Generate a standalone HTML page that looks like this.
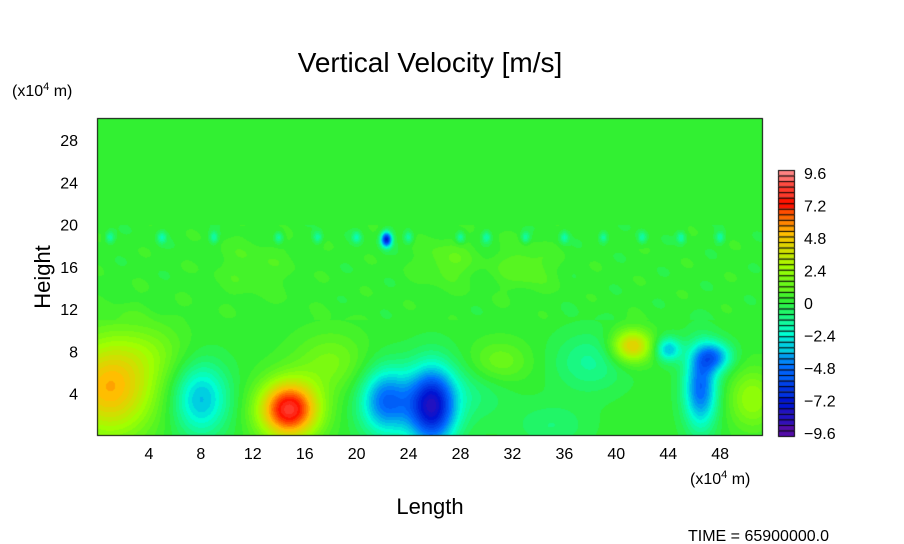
<!DOCTYPE html>
<html><head><meta charset="utf-8"><style>
body{margin:0;background:#fff;width:904px;height:544px;overflow:hidden;font-family:"Liberation Sans",sans-serif}
#c{position:absolute;left:0;top:0}
</style></head><body>
<canvas id="c" width="904" height="544"></canvas>
<svg width="904" height="544" style="position:absolute;left:0;top:0">
<g font-family="Liberation Sans, sans-serif" fill="#000">
<text x="430" y="72" font-size="28" text-anchor="middle">Vertical Velocity [m/s]</text>
<text x="12" y="96" font-size="16">(x10<tspan font-size="11" dy="-6">4</tspan><tspan dy="6"> m)</tspan></text>
<text x="690" y="484" font-size="16">(x10<tspan font-size="11" dy="-6">4</tspan><tspan dy="6"> m)</tspan></text>
<text x="430" y="514" font-size="22" text-anchor="middle">Length</text>
<text x="50" y="277" font-size="22" text-anchor="middle" transform="rotate(-90 50 277)">Height</text>
<text x="688" y="541" font-size="16">TIME = 65900000.0</text>
</g>
<g id="axes"></g>
</svg>
<script>
const xTicks=[4,8,12,16,20,24,28,32,36,40,44,48];
const yTicks=[4,8,12,16,20,24,28];
const cbLabels=[9.6,7.2,4.8,2.4,0,-2.4,-4.8,-7.2,-9.6];
// blobs: x center, y center, amplitude (m/s), x sigma, y sigma
const blobX=[1,8,14.8,22.3,25.8,31,35,41.2,44,46.5,50.5,4.5,18,29,38,22.3,27,33,12,47.5];
const blobY=[4.6,3.5,2.5,3.3,2.8,7,1,8.5,8.2,4.5,3.5,8,7,4,7,18.6,16.5,16,16,7.5];
const blobA=[5,-3.5,8,-5,-7.6,1.4,-1,4.5,-3.5,-5,2.2,1,1.5,-1,-1.5,-7,1,1,0.6,-4];
const blobSX=[2.4,1.5,1.6,1.4,1.3,1.6,2,1.1,0.7,0.9,1.3,2,2,2,2,0.3,1.5,1.5,2,1];
const blobSY=[3.2,2.4,1.9,2.2,2.6,1.4,1.5,1.1,0.8,2.6,2,2,2,2,2,0.5,1.5,1.5,2,1];
const spotX=[1,5,9,14,17,20,24,28,30,33,36,39,42,45,48];
const X0=97,X1=763,Y0=118,Y1=436,XMAX=51.3,YMAX=30.1;
const sx=v=>X0+v/XMAX*(X1-X0), sy=v=>Y1-v/YMAX*(Y1-Y0);
const stops=[[-9.6,[100,10,160]],[-7.2,[0,20,210]],[-4.8,[0,110,255]],[-2.4,[0,255,210]],[0,[50,240,50]],[2.4,[160,255,0]],[4.8,[255,190,0]],[7.2,[255,20,0]],[9.6,[255,130,130]]];
function col(v){v=Math.max(-9.6,Math.min(9.6,Math.round(v/0.4)*0.4));
 for(let i=0;i<stops.length-1;i++){const a=stops[i],b=stops[i+1];if(v<=b[0]){const t=(v-a[0])/(b[0]-a[0]);return a[1].map((c,k)=>Math.round(c+(b[1][k]-c)*t));}}return stops[8][1];}
function field(x,y){let v=0;for(let i=0;i<blobX.length;i++){const dx=(x-blobX[i])/blobSX[i],dy=(y-blobY[i])/blobSY[i];v+=blobA[i]*Math.exp(-(dx*dx+dy*dy)/2);}
 for(const s of spotX){const dx=(x-s)/0.25,dy=(y-18.8)/0.4;v-=1.8*Math.exp(-(dx*dx+dy*dy)/2);}
 if(y>11&&y<20)v+=0.25*Math.sin(x*1.3+y*0.9)*Math.sin(x*0.5-y*1.1);
 return v;}
const ctx=document.getElementById('c').getContext('2d');
const img=ctx.createImageData(X1-X0,Y1-Y0);
for(let j=0;j<Y1-Y0;j++)for(let i=0;i<X1-X0;i++){const x=(i+0.5)/(X1-X0)*XMAX,y=(Y1-Y0-j-0.5)/(Y1-Y0)*YMAX;const c=col(field(x,y));const p=(j*(X1-X0)+i)*4;img.data[p]=c[0];img.data[p+1]=c[1];img.data[p+2]=c[2];img.data[p+3]=255;}
ctx.putImageData(img,X0,Y0);
ctx.strokeStyle='#000';ctx.lineWidth=1;ctx.strokeRect(X0+0.5,Y0+0.5,X1-X0-1,Y1-Y0-1);
const CB0=170,CB1=436,CBX=778,CBW=17,N=48;
for(let k=0;k<N;k++){const v=9.6-(k+0.5)*0.4;const c=col(v);ctx.fillStyle=`rgb(${c})`;const y=CB0+k*(CB1-CB0)/N;ctx.fillRect(CBX,y,CBW,(CB1-CB0)/N);ctx.strokeStyle='#000';ctx.strokeRect(CBX+0.5,y+0.5,CBW-1,(CB1-CB0)/N);}
const g=document.getElementById('axes'),NS='http://www.w3.org/2000/svg';
function t(x,y,s,a){const e=document.createElementNS(NS,'text');e.setAttribute('x',x);e.setAttribute('y',y);e.setAttribute('font-size','16');e.setAttribute('text-anchor',a);e.setAttribute('font-family','Liberation Sans, sans-serif');e.textContent=s;g.appendChild(e);return e;}
for(const v of xTicks){const e=t(sx(v),459,v,'middle');

}
for(const v of yTicks){const e=t(78,sy(v)+6,v,'end');

}
cbLabels.forEach(v=>{const y=CB0+(9.6-v)/19.2*(CB1-CB0-6)+3;const e=t(804,y+6,(v<0?'\u2212'+(-v):v),'start');

});
</script>
</body></html>
